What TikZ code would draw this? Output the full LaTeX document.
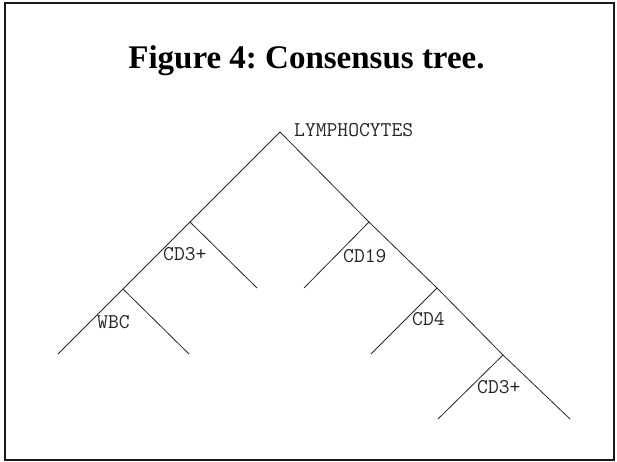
\documentclass[tikz,border=0pt]{standalone}
\usepackage{fontspec}
\newfontfamily\titlefont{Liberation Serif}
\begin{document}
\frenchspacing
\begin{tikzpicture}[x=1pt,y=-1pt,
  branch/.style={draw=black!85,line width=0.8pt},
  leaflabel/.style={inner sep=0pt,anchor=base west,font=\ttfamily\fontsize{21}{23}\selectfont,text=black!85},
  frame/.style={draw=black!90,line width=1.8pt}]
\useasboundingbox (0,0) rectangle (617,462);
\draw[frame] (5,3) rectangle (614,460);
\node[inner sep=0pt,anchor=base,font=\titlefont\bfseries\fontsize{33}{36}\selectfont] (title) at (306.5,69) {Figure 4: Consensus tree.};
% tree coordinates
\coordinate (root) at (280,132);
\coordinate (l1) at (190,222);
\coordinate (l2) at (123,289);
\coordinate (l2a) at (58,354);
\coordinate (l2b) at (189,354);
\coordinate (l1b) at (257,288);
\coordinate (r1) at (369,222);
\coordinate (r1a) at (304,288);
\coordinate (r2) at (437,288);
\coordinate (r2a) at (371,354);
\coordinate (r3) at (503,355);
\coordinate (r3a) at (438,419);
\coordinate (r3b) at (570,419);
% branches
\draw[branch] (l2a) -- (l2) -- (l1) -- (root) -- (r1) -- (r2) -- (r3) -- (r3b);
\draw[branch] (l2) -- (l2b);
\draw[branch] (l1) -- (l1b);
\draw[branch] (r1) -- (r1a);
\draw[branch] (r2) -- (r2a);
\draw[branch] (r3) -- (r3a);
% labels
\node[leaflabel] (lymph) at (294,137) {LYMPHOCYTES};
\node[leaflabel] (cdthreea) at (163,260) {CD3+};
\node[leaflabel] (wbc) at (97,328) {WBC};
\node[leaflabel] (cdnineteen) at (343,262) {CD19};
\node[leaflabel] (cdfour) at (412,325) {CD4};
\node[leaflabel] (cdthreeb) at (477,393) {CD3+};
\end{tikzpicture}
\end{document}
